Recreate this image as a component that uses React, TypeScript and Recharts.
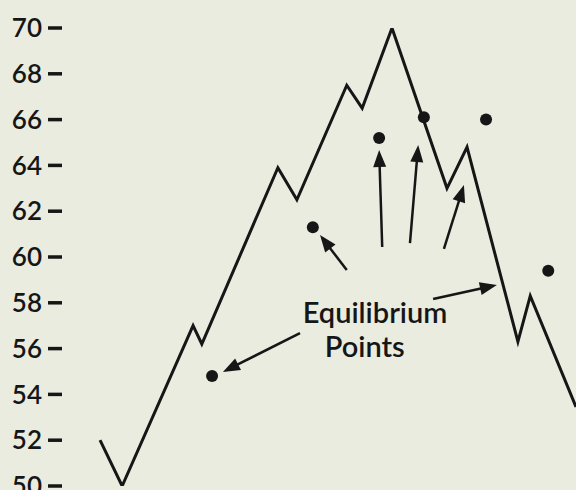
import React from "react";
import {
  ComposedChart, Line, Scatter, XAxis, YAxis, ReferenceLine, ReferenceDot,
} from "recharts";

// price path (t = time, v = value)
const pathT = [7.4, 11.7, 25.5, 27.2, 42, 45.7, 55.4, 58.4, 64.2, 74.9, 78.8, 88.7, 91.1, 100];
const pathV = [52, 50, 57, 56.2, 63.9, 62.5, 67.5, 66.5, 70, 63, 64.8, 56.3, 58.3, 53.45];

// equilibrium points
const eqT = [29.2, 48.8, 61.7, 70.4, 82.5, 94.6];
const eqV = [54.8, 61.3, 65.2, 66.1, 66, 59.4];

const yTicks = [50, 52, 54, 56, 58, 60, 62, 64, 66, 68, 70];

// arrows: [fromT, fromV, toT, toV]
const arrows = [
  [55.4, 59.43, 50.2, 60.96],
  [62.3, 60.44, 61.7, 64.67],
  [67.7, 60.61, 69.3, 64.89],
  [74.3, 60.35, 78.2, 63.14],
  [72.2, 58.17, 84.6, 58.78],
  [46.3, 56.68, 31.3, 54.98],
];

const labelLines = [
  { t: 60.9, v: 57.12, text: "Equilibrium" },
  { t: 58.9, v: 55.63, text: "Points" },
];

const INK = "#161616";
const FONT = "Lato, 'Noto Sans', sans-serif";

const lineData = pathT.map((t, i) => ({ t, v: pathV[i] }));
const dotData = eqT.map((t, i) => ({ t, v: eqV[i] }));

function Arrow(props: any) {
  const { x1, y1, x2, y2 } = props;
  const dx = x2 - x1;
  const dy = y2 - y1;
  const len = Math.sqrt(dx * dx + dy * dy) || 1;
  const ux = dx / len;
  const uy = dy / len;
  const hl = 17;
  const hw = 6.5;
  const bx = x2 - ux * hl;
  const by = y2 - uy * hl;
  const pts = `${x2},${y2} ${bx - uy * hw},${by + ux * hw} ${bx + uy * hw},${by - ux * hw}`;
  return (
    <g>
      <line x1={x1} y1={y1} x2={bx + ux * 3} y2={by + uy * 3} stroke={INK} strokeWidth={2.5} />
      <polygon points={pts} fill={INK} />
    </g>
  );
}

export default function App() {
  return (
    <div style={{ position: "fixed", left: 0, top: 0, width: 576, height: 490, background: "#e9ecdf", overflow: "hidden" }}>
      <ComposedChart
        width={576}
        height={490}
        data={lineData}
        margin={{ top: 28, right: 0, bottom: 4, left: 0 }}
      >
        <XAxis type="number" dataKey="t" domain={[0, 100]} hide />
        <YAxis
          type="number"
          domain={[50, 70]}
          ticks={yTicks}
          interval={0}
          width={62}
          axisLine={false}
          tickLine={{ stroke: INK, strokeWidth: 3.5 }}
          tickSize={14}
          tickMargin={6}
          tick={{ fill: INK, fontSize: 26, fontFamily: FONT, fontWeight: 600 }}
          allowDataOverflow
        />
        <Line
          dataKey="v"
          type="linear"
          stroke={INK}
          strokeWidth={3}
          dot={false}
          isAnimationActive={false}
        />
        <Scatter
          data={dotData}
          dataKey="v"
          fill={INK}
          isAnimationActive={false}
          shape={(p: any) => <circle cx={p.cx} cy={p.cy} r={6} fill={INK} />}
        />
        {arrows.map((a, i) => (
          <ReferenceLine
            key={i}
            segment={[{ x: a[0], y: a[1] }, { x: a[2], y: a[3] }]}
            shape={Arrow}
          />
        ))}
        {labelLines.map((l) => (
          <ReferenceDot
            key={l.text}
            x={l.t}
            y={l.v}
            r={0}
            shape={(p: any) => (
              <text
                x={p.cx}
                y={p.cy}
                textAnchor="middle"
                fill={INK}
                fontSize={29}
                fontFamily={FONT}
                fontWeight={600}
              >
                {l.text}
              </text>
            )}
          />
        ))}
      </ComposedChart>
    </div>
  );
}
